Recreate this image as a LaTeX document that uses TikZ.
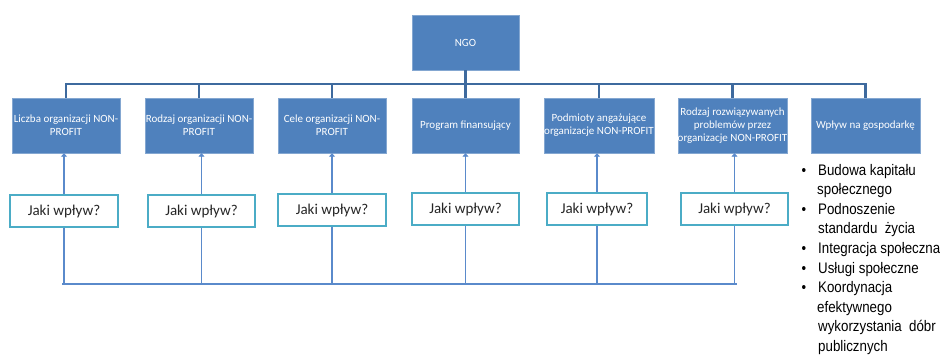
\documentclass[tikz,border=0pt]{standalone}
\usepackage{fontspec}
\setmainfont{Carlito}
\newfontfamily\bulletfont[FakeStretch=0.87]{Liberation Sans}
\usetikzlibrary{arrows.meta}
\definecolor{boxblue}{HTML}{4F81BD}
\definecolor{busblue}{HTML}{3E6A9E}
\definecolor{linkblue}{HTML}{5A8ACB}
\definecolor{cyanedge}{HTML}{4BACC6}
\definecolor{darktext}{HTML}{262626}
\tikzset{
  x=1pt, y=-1pt,
  orgbox/.style={rectangle, fill=boxblue, draw=boxblue!70!white, line width=0.4pt,
    text=white, align=center, inner sep=0pt, font=\fontsize{11}{12.8}\selectfont},
  askbox/.style={rectangle, draw=cyanedge, line width=1.2pt, fill=white,
    text=darktext, inner sep=0pt, font=\fontsize{15}{18}\selectfont},
  bus/.style={draw=busblue, line width=2.4pt},
  link/.style={draw=linkblue, line width=1.3pt},
  uparrow/.style={link, -{Triangle[width=6pt,length=3.5pt]}},
  listline/.style={anchor=base west, inner sep=0pt, text=black,
    font=\bulletfont\fontsize{15.3}{18}\selectfont},
  bulletmark/.style={anchor=base, inner sep=0pt, text=black,
    font=\bulletfont\fontsize{15}{16}\selectfont},
}
\begin{document}
\begin{tikzpicture}
\clip (0,0) rectangle (940,357);
\fill[white] (0,0) rectangle (940,357);
% top node
\node[orgbox, minimum width=107pt, minimum height=55pt] (ngo) at (465.5,42.5) {NGO};
% middle row
\node[orgbox, minimum width=108pt, minimum height=55pt] (m1) at (66,125.5) {Liczba organizacji NON-\\PROFIT};
\node[orgbox, minimum width=108pt, minimum height=55pt] (m2) at (199,125.5) {Rodzaj organizacji NON-\\PROFIT};
\node[orgbox, minimum width=108pt, minimum height=55pt] (m3) at (332,125.5) {Cele organizacji NON-\\PROFIT};
\node[orgbox, minimum width=107pt, minimum height=55pt] (m4) at (465.5,125.5) {Program finansujący};
\node[orgbox, minimum width=108pt, minimum height=55pt] (m5) at (599,125.5) {Podmioty angażujące\\organizacje NON-PROFIT};
\node[orgbox, minimum width=107pt, minimum height=55pt] (m6) at (732.5,125.5) {Rodzaj rozwiązywanych\\problemów przez\\organizacje NON-PROFIT};
\node[orgbox, minimum width=109pt, minimum height=55pt] (m7) at (865.5,125.5) {Wpływ na gospodarkę};
% tree connectors
\foreach \i in {1,...,7}{
  \draw[bus] (ngo.south) -- ++(0,14) -| (m\i.north);
}
% question boxes
\node[askbox, minimum width=108pt, minimum height=32pt] (j1) at (64,211) {Jaki wpływ?};
\node[askbox, minimum width=107pt, minimum height=32pt] (j2) at (201.5,211) {Jaki wpływ?};
\node[askbox, minimum width=108pt, minimum height=32pt] (j3) at (332,210) {Jaki wpływ?};
\node[askbox, minimum width=107pt, minimum height=32pt] (j4) at (465.5,209) {Jaki wpływ?};
\node[askbox, minimum width=100pt, minimum height=32pt] (j5) at (597,209) {Jaki wpływ?};
\node[askbox, minimum width=107pt, minimum height=32pt] (j6) at (734.5,209) {Jaki wpływ?};
% arrows up
\foreach \i in {1,...,6}{
  \draw[uparrow] (j\i.north) -- (j\i.north |- m\i.south);
}
% bottom bus
\coordinate (busL) at (62,284);
\coordinate (busR) at (737,284);
\draw[link] (busL) -- (busR);
\foreach \i in {1,...,6}{
  \draw[link] (j\i.south) -- (j\i.south |- busL);
}
% bullet list
\node[bulletmark] (b1) at (804,175) {•};
\node[bulletmark] (b2) at (804,214) {•};
\node[bulletmark] (b3) at (804,253.5) {•};
\node[bulletmark] (b4) at (804,273) {•};
\node[bulletmark] (b5) at (804,292.5) {•};
\node[listline] (l1) at (818,175) {Budowa kapitału};
\node[listline] (l2) at (817,194.5) {społecznego};
\node[listline] (l3) at (818,214) {Podnoszenie};
\node[listline] (l4) at (818,233.5) {standardu \ życia};
\node[listline] (l5) at (818,253.5) {Integracja społeczna};
\node[listline] (l6) at (818,273) {Usługi społeczne};
\node[listline] (l7) at (818,292.5) {Koordynacja};
\node[listline] (l8) at (817,312) {efektywnego};
\node[listline] (l9) at (818,331.5) {wykorzystania \ dóbr};
\node[listline] (l10) at (818,351) {publicznych};
\end{tikzpicture}
\end{document}
